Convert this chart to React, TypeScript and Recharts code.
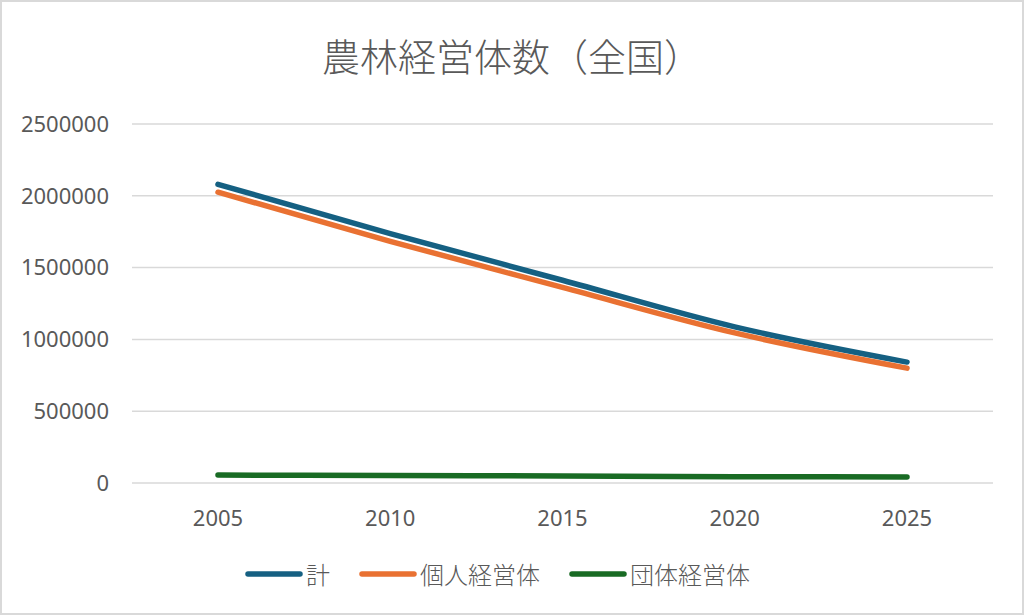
import { LineChart, Line, XAxis, YAxis, CartesianGrid, Legend } from "recharts";

const years = ["2005", "2010", "2015", "2020", "2025"];
const totalValues = [2080000, 1737000, 1412000, 1087000, 842000];
const individualValues = [2025000, 1683000, 1362000, 1045000, 800000];
const groupValues = [55000, 52000, 49000, 44000, 42000];
const yTicks = [0, 500000, 1000000, 1500000, 2000000, 2500000];
const seriesOrder = ["計", "個人経営体", "団体経営体"];

const data = years.map((year, i) => ({
  year,
  total: totalValues[i],
  individual: individualValues[i],
  group: groupValues[i],
}));

const textColor = "#595959";
const fontStack = '"Noto Sans", "Noto Sans CJK JP", sans-serif';

function LegendContent({ payload }: any) {
  const items = [...(payload || [])].sort(
    (a: any, b: any) => seriesOrder.indexOf(a.value) - seriesOrder.indexOf(b.value)
  );
  return (
    <div style={{ display: "flex", justifyContent: "center", alignItems: "center", gap: 28 }}>
      {items.map((entry: any) => (
        <div key={entry.value} style={{ display: "flex", alignItems: "center" }}>
          <svg width={60} height={12}>
            <line x1={4} y1={6} x2={56} y2={6} stroke={entry.color} strokeWidth={5.5} strokeLinecap="round" />
          </svg>
          <span
            style={{
              marginLeft: 2,
              fontSize: 24,
              fontWeight: 300,
              color: textColor,
              fontFamily: '"Noto Sans CJK JP", sans-serif',
            }}
          >
            {entry.value}
          </span>
        </div>
      ))}
    </div>
  );
}

export default function App() {
  return (
    <div style={{ position: "absolute", left: 0, top: 0, width: 1024, height: 615, background: "#fff" }}>
      <div
        style={{
          position: "absolute",
          left: 0,
          top: 29,
          width: 1024,
          textAlign: "center",
          fontSize: 38,
          fontWeight: 300,
          lineHeight: "52px",
          color: textColor,
          fontFamily: '"Noto Sans CJK JP", sans-serif',
        }}
      >
        農林経営体数（全国）
      </div>
      <LineChart
        width={1024}
        height={615}
        data={data}
        margin={{ top: 124, right: 31, bottom: 72, left: 0 }}
        style={{ fontFamily: fontStack }}
      >
        <CartesianGrid vertical={false} stroke="#d9d9d9" strokeWidth={1.5} />
        <XAxis
          dataKey="year"
          axisLine={false}
          tickLine={false}
          tickSize={0}
          tickMargin={27}
          height={60}
          padding={{ left: 86, right: 86 }}
          tick={{ fontSize: 22, fill: textColor }}
        />
        <YAxis
          domain={[0, 2500000]}
          ticks={yTicks}
          axisLine={false}
          tickLine={false}
          tickSize={0}
          tickMargin={23}
          width={132}
          tick={{ fontSize: 22, fill: textColor }}
        />
        <Legend
          layout="horizontal"
          verticalAlign="middle"
          align="center"
          content={<LegendContent />}
          wrapperStyle={{ top: 556, left: 0, width: 994 }}
        />
        <Line
          type="monotone"
          dataKey="total"
          name="計"
          stroke="#156082"
          strokeWidth={5.5}
          strokeLinecap="round"
          dot={false}
          isAnimationActive={false}
        />
        <Line
          type="monotone"
          dataKey="individual"
          name="個人経営体"
          stroke="#e97132"
          strokeWidth={5.5}
          strokeLinecap="round"
          dot={false}
          isAnimationActive={false}
        />
        <Line
          type="monotone"
          dataKey="group"
          name="団体経営体"
          stroke="#196b24"
          strokeWidth={5.5}
          strokeLinecap="round"
          dot={false}
          isAnimationActive={false}
        />
      </LineChart>
      <div
        style={{
          position: "absolute",
          left: 0,
          top: 0,
          width: 1024,
          height: 615,
          boxSizing: "border-box",
          border: "2px solid #d9d9d9",
          pointerEvents: "none",
        }}
      />
    </div>
  );
}
